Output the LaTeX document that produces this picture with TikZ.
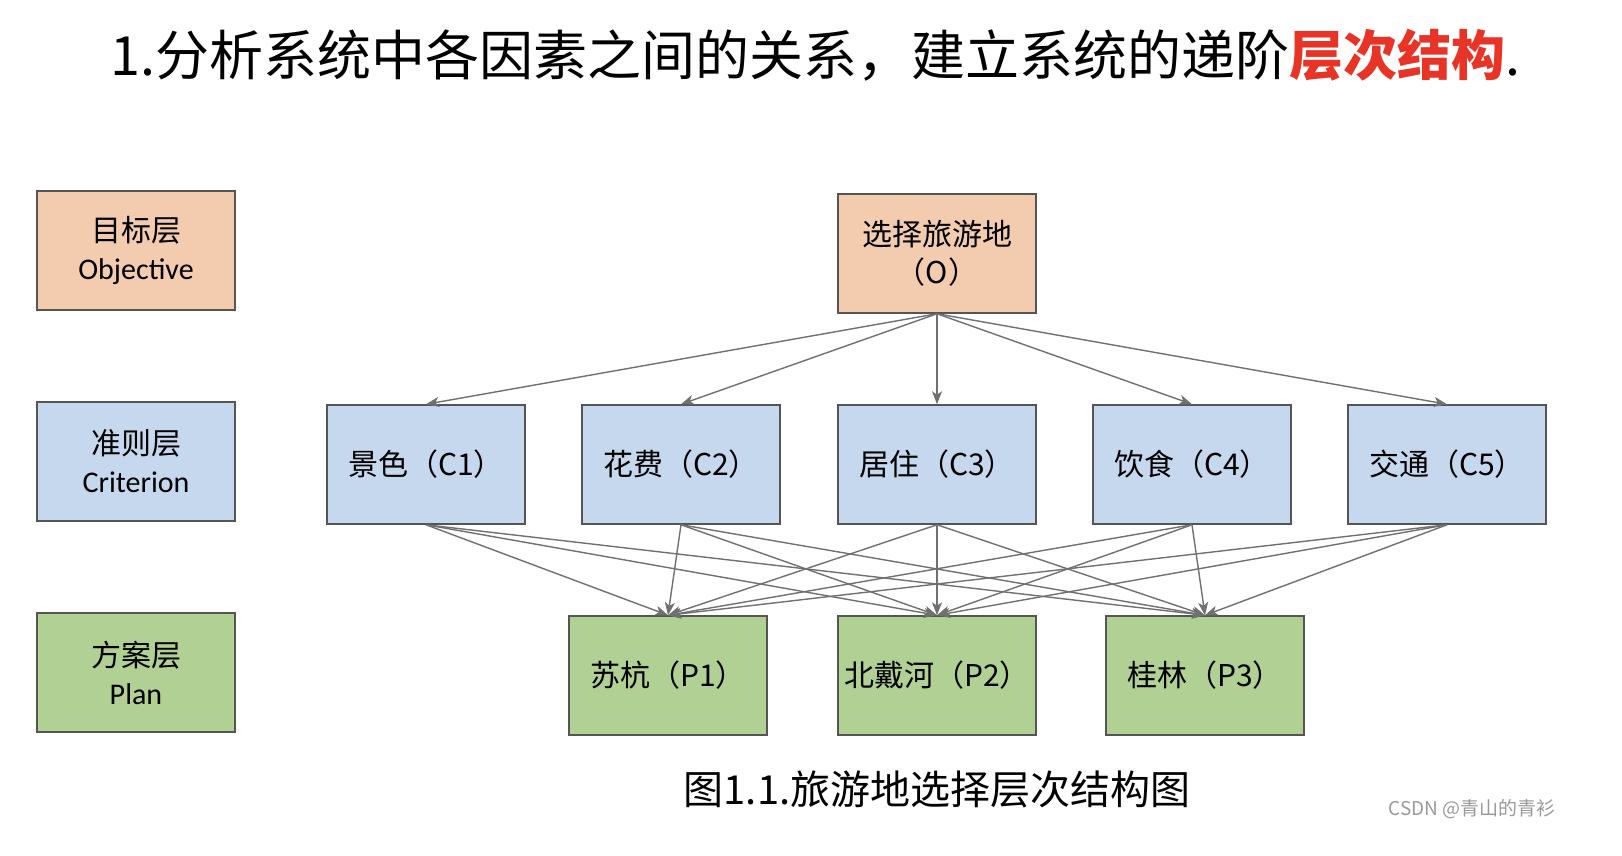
\documentclass[tikz,border=0pt]{standalone}
\usepackage{fontspec}
\setmainfont{Noto Sans CJK SC}
\newfontfamily\latinfont{Carlito}
\usetikzlibrary{arrows.meta}
\definecolor{objfill}{RGB}{243,203,175}
\definecolor{crifill}{RGB}{197,216,237}
\definecolor{planfill}{RGB}{177,208,147}
\definecolor{boxline}{RGB}{85,85,85}
\definecolor{arrowgray}{RGB}{112,112,112}
\definecolor{titlered}{RGB}{232,52,38}
\tikzset{
  layerbox/.style={draw=boxline, line width=1.5pt, minimum width=198pt, minimum height=119pt, inner sep=0pt, align=center, font=\fontsize{30}{38}\selectfont},
  link/.style={draw=arrowgray, line width=1.4pt, -{Stealth[length=13pt,width=10pt,inset=3.5pt]}}
}
\begin{document}
\begin{tikzpicture}[x=1pt,y=-1pt]
\useasboundingbox (0,0) rectangle (1622,856);

% title
\node[anchor=base west, inner sep=0pt, font=\fontsize{54}{56}\selectfont] (title) at (110,76) {1.分析系统中各因素之间的关系，建立系统的递阶{\color{titlered}\bfseries 层次结构}.};

% layer labels
\node[layerbox, fill=objfill] (objlayer) at (136,250.5) {目标层\\{\latinfont Objective}};
\node[layerbox, fill=crifill] (crilayer) at (136,461.5) {准则层\\{\latinfont Criterion}};
\node[layerbox, fill=planfill] (planlayer) at (136,672.5) {方案层\\{\latinfont Plan}};

% objective
\node[layerbox, fill=objfill] (O) at (937,253.5) {选择旅游地\\（O）};

% criteria
\node[layerbox, fill=crifill] (C1) at (426,464.5) {景色（C1）};
\node[layerbox, fill=crifill] (C2) at (681,464.5) {花费（C2）};
\node[layerbox, fill=crifill] (C3) at (937,464.5) {居住（C3）};
\node[layerbox, fill=crifill] (C4) at (1192,464.5) {饮食（C4）};
\node[layerbox, fill=crifill] (C5) at (1447,464.5) {交通（C5）};

% plans
\node[layerbox, fill=planfill] (P1) at (668,675.5) {苏杭（P1）};
\node[layerbox, fill=planfill] (P2) at (937,675.5) {北戴河（P2）};
\node[layerbox, fill=planfill] (P3) at (1205,675.5) {桂林（P3）};

% arrows
\foreach \c in {C1,C2,C3,C4,C5}
  \draw[link] (O.south) -- (\c.north);
\foreach \c in {C1,C2,C3,C4,C5}
  \foreach \p in {P1,P2,P3}
    \draw[link] (\c.south) -- (\p.north);

% caption
\node[anchor=base, inner sep=0pt, font=\fontsize{40}{42}\selectfont] (caption) at (937,804) {图1.1.旅游地选择层次结构图};
\node[anchor=base east, inner sep=0pt, text=gray!80, font=\fontsize{19}{20}\selectfont] (mark) at (1556,815) {CSDN @青山的青衫};

\end{tikzpicture}
\end{document}
